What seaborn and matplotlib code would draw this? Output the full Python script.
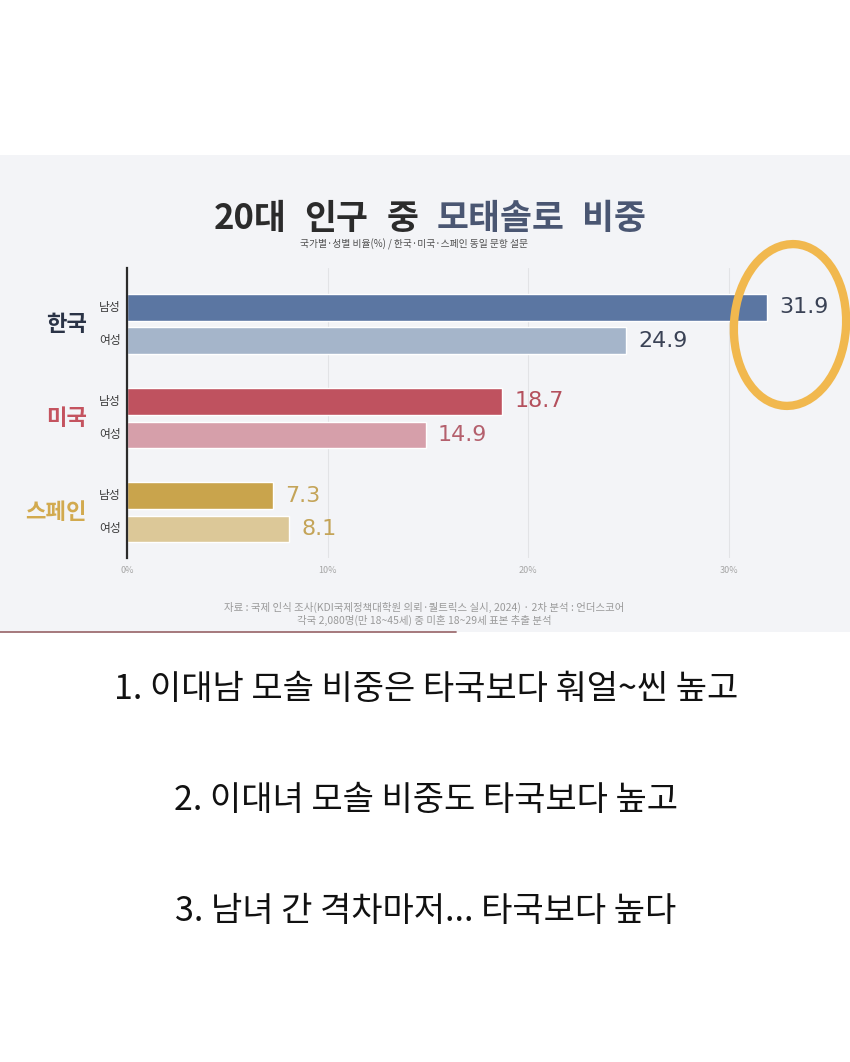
import matplotlib
matplotlib.use("Agg")
import matplotlib.pyplot as plt
import matplotlib.transforms as mtransforms
from matplotlib.patches import Rectangle, Ellipse
from matplotlib.lines import Line2D
import seaborn as sns
import pandas as pd
import numpy as np

# ---------------- data ----------------
countries = ["한국", "미국", "스페인"]
genders = ["남성", "여성"]
values = [31.9, 24.9, 18.7, 14.9, 7.3, 8.1]
value_labels = ["31.9", "24.9", "18.7", "14.9", "7.3", "8.1"]
x_ticks = [0, 10, 20, 30]
x_tick_labels = ["0%", "10%", "20%", "30%"]
title_dark = "20대 인구 중"
title_blue = "모태솔로 비중"
subtitle = "국가별·성별 비율(%) / 한국·미국·스페인 동일 문항 설문"
source_lines = [
    "자료 : 국제 인식 조사(KDI국제정책대학원 의뢰·퀄트릭스 실시, 2024) · 2차 분석 : 언더스코어",
    "각국 2,080명(만 18~45세) 중 미혼 18~29세 표본 추출 분석",
]
notes = [
    "1. 이대남 모솔 비중은 타국보다 훠얼~씬 높고",
    "2. 이대녀 모솔 비중도 타국보다 높고",
    "3. 남녀 간 격차마저... 타국보다 높다",
]

# ---------------- styles ----------------
bar_colors = ["#5b76a2", "#a5b5ca", "#bf525f", "#d69faa", "#c9a44c", "#dcc898"]
value_colors = ["#3a4255", "#3a4255", "#b4505d", "#b4606d", "#c4a458", "#c4a458"]
country_colors = ["#2a3346", "#c4535f", "#d2aa4f"]

sns.set_theme(style="white")
plt.rcParams["font.family"] = ["Noto Sans CJK KR", "DejaVu Sans"]

W, H = 850, 1062
fig = plt.figure(figsize=(W / 100, H / 100), dpi=100)
fig.patch.set_facecolor("white")


def fx(px):
    return px / W


def fy(py):
    return 1 - py / H


# panel background and bottom rule
fig.add_artist(Rectangle((0, fy(632)), 1, fy(155) - fy(632), transform=fig.transFigure,
                         facecolor="#f3f4f7", edgecolor="none", zorder=0))
fig.add_artist(Line2D([0, fx(456)], [fy(632), fy(632)], transform=fig.transFigure,
                      color="#9e6e72", lw=1.3, zorder=1))

# ---------------- chart ----------------
ax = fig.add_axes([fx(127), fy(558), 1 - fx(127), (558 - 268) / H])
ax.set_facecolor("none")

group_gap = 2.82
df = pd.DataFrame({
    "country": np.repeat(countries, len(genders)),
    "gender": genders * len(countries),
    "value": values,
})
df["key"] = df["country"] + df["gender"]
df["pos"] = [gi * group_gap + si for gi in range(len(countries)) for si in range(len(genders))]

sns.barplot(data=df, x="value", y="pos", hue="key",
            palette=dict(zip(df["key"], bar_colors)), orient="h",
            native_scale=True, dodge=False, width=0.8, legend=False,
            saturation=1, ax=ax)

ax.set_xlim(0, (W - 127) / 20.06)
ax.set_ylim(6.64 + 0.87, -1.18)
ax.set_xticks(x_ticks)
ax.set_xticklabels(x_tick_labels, fontsize=6.5, color="#a6a6a6")
ax.tick_params(axis="x", length=0, pad=6)
ax.set_yticks([])
ax.set_xlabel("")
ax.set_ylabel("")
ax.grid(axis="x", color="#e2e3e6", lw=0.8)
ax.grid(axis="y", visible=False)
ax.set_axisbelow(True)
for s in ["top", "right", "bottom"]:
    ax.spines[s].set_visible(False)
ax.spines["left"].set_color("#2b2b2b")
ax.spines["left"].set_linewidth(1.6)
ax.spines["left"].set_zorder(5)

# value labels
for v, lab, p, c in zip(df["value"], value_labels, df["pos"], value_colors):
    ax.text(v + 0.6, p, lab, ha="left", va="center", fontsize=16,
            color=c, family="DejaVu Sans")

# gender + country labels
trans = mtransforms.blended_transform_factory(fig.transFigure, ax.transData)
for g, p in zip(df["gender"], df["pos"]):
    ax.text(fx(121), p, g, ha="right", va="center", fontsize=8.5,
            color="#3a3a3a", transform=trans, clip_on=False)
for gi, (c, col) in enumerate(zip(countries, country_colors)):
    ax.text(fx(87), gi * group_gap + 0.5, c, ha="right", va="center", fontsize=16,
            fontweight="bold", color=col, transform=trans, clip_on=False)

# ---------------- title (word by word, wide spacing) ----------------
title_fs = 25
words = [(w, "#2b2b2b") for w in title_dark.split()] + \
        [(w, "#4a5672") for w in title_blue.split()]
texts = [fig.text(0, fy(218), w, ha="left", va="center", fontsize=title_fs,
                  fontweight="heavy", color=c) for w, c in words]
fig.canvas.draw()
r = fig.canvas.get_renderer()
widths = [t.get_window_extent(r).width for t in texts]
gap = 18
total = sum(widths) + gap * (len(widths) - 1)
x = 430 - total / 2
for t, w in zip(texts, widths):
    t.set_x(fx(x))
    x += w + gap

fig.text(fx(414), fy(244), subtitle, ha="center", va="center", fontsize=7,
         color="#505050")

for i, line in enumerate(source_lines):
    fig.text(fx(424), fy(607 + 13 * i), line, ha="center", va="center",
             fontsize=7.5, color="#9a9a9a")

# hand-drawn highlight circle
fig.add_artist(Ellipse((7.9, (H - 325) / 100), 1.12, 1.62, angle=-4,
                       transform=fig.dpi_scale_trans, fill=False,
                       edgecolor="#f1b84e", lw=6, zorder=10))

# ---------------- notes ----------------
for i, line in enumerate(notes):
    fig.text(fx(426), fy(689 + 111.5 * i), line, ha="center", va="center",
             fontsize=24.5, color="#111111")

fig.savefig("out.png", dpi=100)
